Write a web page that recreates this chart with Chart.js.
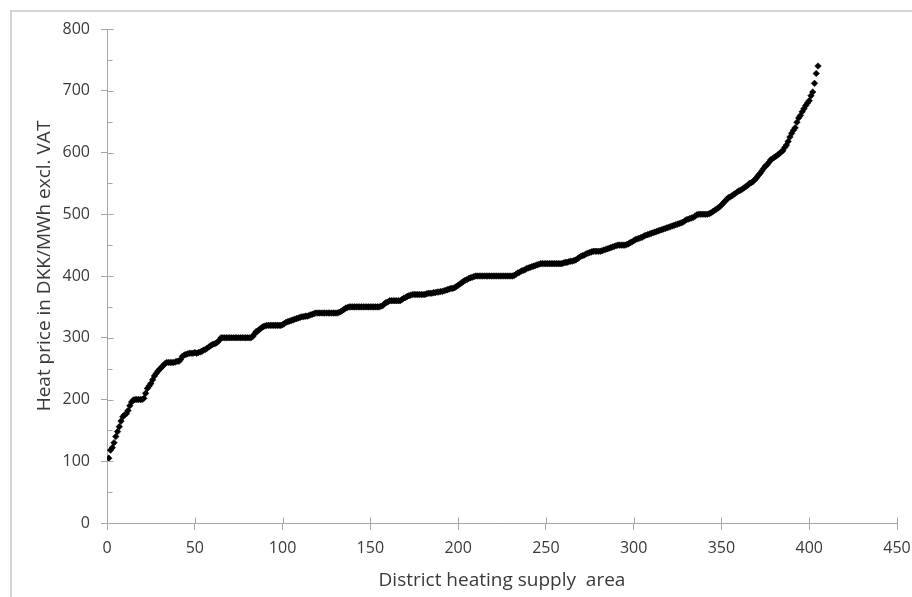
<!DOCTYPE html>
<html>
<head>
<meta charset="utf-8">
<script src="https://cdn.jsdelivr.net/npm/chart.js@4"></script>
<style>
  html, body { margin: 0; padding: 0; background: #fff; }
  #wrap { position: relative; width: 912px; height: 597px; }
  #frame { position: absolute; left: 10px; top: 10px; right: -2px; bottom: -2px;
           border-left: 2px solid #d4d4d4; border-top: 2px solid #d4d4d4; pointer-events: none; }
  canvas { position: absolute; left: 0; top: 0; }
</style>
</head>
<body>
<div id="wrap">
  <canvas id="c" width="912" height="597"></canvas>
  <div id="frame"></div>
</div>
<script>
// Heat price (DKK/MWh excl. VAT) per district heating supply area, sorted ascending (rank 1..405)
const prices = [
  105,118,122,130,140,148,156,165,172,175,
  177,182,190,196,199,200,200,200,200,200,
  202,210,218,222,226,232,238,242,246,249,
  252,255,258,260,260,260,260,260,261,262,
  262,265,270,272,273,274,275,275,275,276,
  275,276,277,278,280,281,283,285,287,289,
  290,291,293,296,300,300,300,300,300,300,
  300,300,300,300,300,300,300,300,300,300,
  300,300,302,306,310,311,314,316,318,319,
  320,320,320,320,320,320,320,320,320,321,
  323,325,326,327,328,329,330,331,332,333,
  334,334,335,335,336,337,338,339,340,340,
  340,340,340,340,340,340,340,340,340,340,
  340,341,342,344,346,348,349,350,350,350,
  350,350,350,350,350,350,350,350,350,350,
  350,350,350,350,350,351,352,355,357,358,
  360,360,360,360,360,360,360,362,364,365,
  367,368,369,370,370,370,370,370,370,370,
  370,371,372,372,372,373,373,374,374,375,
  375,376,377,378,379,380,380,381,383,385,
  387,389,391,393,394,396,397,398,399,400,
  400,400,400,400,400,400,400,400,400,400,
  400,400,400,400,400,400,400,400,400,400,
  400,401,403,405,406,408,409,410,412,413,
  414,415,416,417,418,419,420,420,420,420,
  420,420,420,420,420,420,420,420,420,421,
  422,422,423,424,424,425,426,428,430,432,
  433,434,436,437,438,439,440,440,440,440,
  440,441,442,443,444,445,446,447,448,449,
  450,450,450,450,450,451,452,454,455,457,
  459,460,461,462,463,465,466,467,468,469,
  470,471,472,473,474,475,476,477,478,479,
  480,481,482,483,484,485,486,487,489,491,
  492,493,494,495,497,499,500,500,500,500,
  500,500,501,502,504,506,508,510,512,515,
  518,521,524,527,528,530,532,534,536,538,
  539,541,543,545,547,550,551,553,556,559,
  563,566,570,574,578,580,584,588,590,592,
  594,596,598,601,603,608,612,618,625,631,
  636,640,649,656,660,666,671,676,680,684,
  692,698,712,728,740
];
const xTicks = [0, 50, 100, 150, 200, 250, 300, 350, 400, 450];
const yTicks = [0, 100, 200, 300, 400, 500, 600, 700, 800];
const yMinorTicks = [50, 150, 250, 350, 450, 550, 650, 750];
const xTitle = 'District heating supply  area';
const yTitle = 'Heat price in DKK/MWh excl. VAT';

const points = prices.map((v, i) => ({ x: i + 1, y: v }));
const axisColor = '#a6a6a6';
const textColor = '#3a3a3a';
const fontFamily = '"Open Sans", Lato, sans-serif';

const innerTicks = {
  id: 'innerTicks',
  afterDraw(chart) {
    const ctx = chart.ctx;
    const xs = chart.scales.x, ys = chart.scales.y;
    ctx.save();
    ctx.strokeStyle = axisColor;
    ctx.lineWidth = 1;
    ctx.beginPath();
    const x0 = Math.round(xs.getPixelForValue(0)) + 0.5;
    yTicks.forEach(v => {
      const py = Math.round(ys.getPixelForValue(v)) + 0.5;
      ctx.moveTo(x0, py); ctx.lineTo(x0 + 6, py);
    });
    yMinorTicks.forEach(v => {
      const py = Math.round(ys.getPixelForValue(v)) + 0.5;
      ctx.moveTo(x0, py); ctx.lineTo(x0 + 5, py);
    });
    const y0 = Math.round(ys.getPixelForValue(0)) + 0.5;
    xTicks.forEach(v => {
      const px = Math.round(xs.getPixelForValue(v)) + 0.5;
      ctx.moveTo(px, y0); ctx.lineTo(px, y0 - 6);
    });
    ctx.stroke();
    // y axis title
    ctx.fillStyle = textColor;
    ctx.font = '19px ' + fontFamily;
    ctx.textAlign = 'center';
    ctx.textBaseline = 'middle';
    ctx.translate(45, (chart.chartArea.top + chart.chartArea.bottom) / 2 - 10);
    ctx.rotate(-Math.PI / 2);
    ctx.fillText(yTitle, 0, 0);
    ctx.restore();
  }
};

new Chart(document.getElementById('c'), {
  type: 'scatter',
  data: {
    datasets: [{
      data: points,
      pointStyle: 'rectRot',
      pointRadius: 3.3,
      pointBackgroundColor: '#000',
      pointBorderColor: '#000',
      pointBorderWidth: 0.5
    }]
  },
  options: {
    responsive: false,
    animation: false,
    layout: { padding: { top: 29, right: 15, left: 0, bottom: 0 } },
    plugins: { legend: { display: false }, tooltip: { enabled: false } },
    scales: {
      x: {
        type: 'linear', min: 0, max: 450,
        afterBuildTicks: s => { s.ticks = xTicks.map(v => ({ value: v })); },
        afterFit: s => { s.height = 74; s.paddingLeft = 0; s.paddingRight = 0; },
        ticks: { color: textColor, font: { family: fontFamily, size: 16 }, padding: 9, maxRotation: 0 },
        grid: { drawOnChartArea: false, drawTicks: true, tickLength: 7, color: axisColor, lineWidth: 1 },
        border: { display: true, color: axisColor, width: 1 },
        title: { display: true, text: xTitle, color: textColor, font: { family: fontFamily, size: 19 }, padding: { top: 0, bottom: 5 } }
      },
      y: {
        type: 'linear', min: 0, max: 800,
        afterBuildTicks: s => { s.ticks = yTicks.map(v => ({ value: v })); },
        afterFit: s => { s.width = 107; s.paddingTop = 0; s.paddingBottom = 0; },
        ticks: { color: textColor, font: { family: fontFamily, size: 16 }, padding: 11 },
        grid: { drawOnChartArea: false, drawTicks: true, tickLength: 6, color: axisColor, lineWidth: 1 },
        border: { display: true, color: axisColor, width: 1 },
        title: { display: false }
      }
    }
  },
  plugins: [innerTicks]
});
</script>
</body>
</html>
